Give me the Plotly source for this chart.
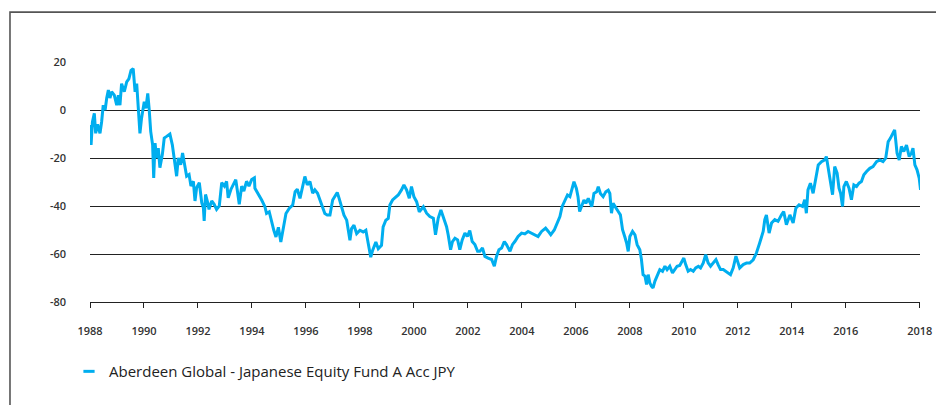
import plotly.graph_objects as go

SERIES_NAME = "Aberdeen Global - Japanese Equity Fund A Acc JPY"
LINE_COLOR = "#00AEEF"

# decimal-year positions
years = [
    1988.00, 1988.04, 1988.09, 1988.16, 1988.21, 1988.28, 1988.37, 1988.43, 1988.49, 1988.56,
    1988.62, 1988.68, 1988.74, 1988.80, 1988.90, 1988.99, 1989.05, 1989.11, 1989.17, 1989.27,
    1989.36, 1989.44, 1989.52, 1989.60, 1989.67, 1989.73, 1989.79, 1989.85, 1989.91, 1990.01,
    1990.07, 1990.14, 1990.19, 1990.25, 1990.32, 1990.36, 1990.41, 1990.47, 1990.53, 1990.59,
    1990.68, 1990.75, 1990.84, 1990.96, 1991.05, 1991.12, 1991.21, 1991.27, 1991.36, 1991.43,
    1991.52, 1991.58, 1991.67, 1991.74, 1991.83, 1991.89, 1991.95, 1992.05, 1992.14, 1992.20,
    1992.23, 1992.28, 1992.36, 1992.41, 1992.51, 1992.60, 1992.69, 1992.79, 1992.88, 1992.98,
    1993.06, 1993.12, 1993.22, 1993.31, 1993.40, 1993.47, 1993.53, 1993.62, 1993.70, 1993.80,
    1993.89, 1993.99, 1994.09,
    1994.11, 1994.23, 1994.36, 1994.48, 1994.54, 1994.64, 1994.73, 1994.81, 1994.89, 1994.98,
    1995.07, 1995.16, 1995.26, 1995.38, 1995.51, 1995.60, 1995.68, 1995.78, 1995.88, 1995.96,
    1996.05, 1996.15, 1996.25, 1996.33, 1996.43, 1996.52, 1996.62, 1996.70, 1996.79, 1996.89,
    1996.99, 1997.07, 1997.16, 1997.23, 1997.32, 1997.41, 1997.51, 1997.57, 1997.63, 1997.69,
    1997.78, 1997.88, 1998.00, 1998.12, 1998.22, 1998.31, 1998.40, 1998.47, 1998.59, 1998.68,
    1998.80, 1998.86, 1998.96, 1999.05, 1999.11, 1999.21, 1999.33, 1999.42, 1999.54, 1999.63,
    1999.73, 1999.83, 1999.91, 2000.00, 2000.10, 2000.20,
    2000.35, 2000.47, 2000.59, 2000.72, 2000.80, 2000.90, 2001.00, 2001.09, 2001.21, 2001.27,
    2001.36, 2001.43, 2001.52, 2001.62, 2001.70, 2001.79, 2001.89, 2001.98, 2002.07, 2002.16,
    2002.26, 2002.36, 2002.44, 2002.54, 2002.63, 2002.75, 2002.88, 2002.98, 2003.06, 2003.15,
    2003.25, 2003.35, 2003.43, 2003.56, 2003.65, 2003.74, 2003.86, 2003.99, 2004.11, 2004.23,
    2004.36, 2004.48, 2004.60, 2004.73, 2004.88, 2004.98, 2005.07, 2005.20, 2005.32, 2005.41,
    2005.49, 2005.59, 2005.69, 2005.78, 2005.85, 2005.93, 2006.02, 2006.08, 2006.14, 2006.23,
    2006.30,
    2006.37, 2006.46, 2006.59, 2006.67, 2006.77, 2006.83, 2006.91, 2007.01, 2007.11, 2007.20,
    2007.26, 2007.32, 2007.38, 2007.48, 2007.57, 2007.65, 2007.73, 2007.81, 2007.88, 2007.94,
    2008.00, 2008.10, 2008.19, 2008.27, 2008.37, 2008.43, 2008.49, 2008.56, 2008.62, 2008.68,
    2008.74, 2008.80, 2008.86, 2008.93, 2009.01, 2009.11, 2009.21, 2009.30, 2009.38, 2009.48,
    2009.58, 2009.67, 2009.75, 2009.85, 2009.91, 2010.00, 2010.07, 2010.16, 2010.25, 2010.35,
    2010.44, 2010.54, 2010.62, 2010.72, 2010.81, 2010.90, 2010.99, 2011.09, 2011.19, 2011.27,
    2011.36, 2011.46, 2011.56, 2011.64, 2011.73, 2011.83, 2011.93,
    2012.07, 2012.20, 2012.32, 2012.44, 2012.57, 2012.69, 2012.81, 2012.94, 2013.00, 2013.06,
    2013.16, 2013.25, 2013.37, 2013.49, 2013.62, 2013.70, 2013.80, 2013.93, 2014.05, 2014.15,
    2014.27, 2014.40, 2014.48, 2014.54, 2014.60, 2014.69, 2014.79, 2014.89, 2014.98, 2015.10,
    2015.22, 2015.28, 2015.36, 2015.43, 2015.51, 2015.59, 2015.68, 2015.75, 2015.81, 2015.88,
    2015.93, 2016.02, 2016.12, 2016.21, 2016.30, 2016.40, 2016.49, 2016.58, 2016.67, 2016.77,
    2016.89, 2017.01, 2017.14, 2017.26, 2017.38, 2017.48, 2017.57, 2017.65, 2017.75, 2017.81,
    2017.90, 2017.98, 2018.06, 2018.15, 2018.25, 2018.35, 2018.43, 2018.49, 2018.56, 2018.64,
    2018.72, 2018.77,
]

# cumulative performance (%)
performance = [
    -6.2, -14.5, -5.0, -1.4, -9.7, -6.0, -9.7, -5.0, 2.0, 0.0,
    5.0, 8.3, 5.0, 7.6, 6.2, 2.0, 6.2, 2.0, 11.0, 7.6,
    11.7, 13.0, 16.5, 17.2, 7.6, 11.0, 0.7, -9.7, -3.4, 3.4,
    0.7, 6.9, 0.7, -9.0, -14.5, -28.3, -13.8, -20.0, -15.9, -24.0,
    -18.6, -11.7, -11.0, -10.0, -14.5, -20.0, -27.6, -20.0, -22.8, -17.9,
    -24.0, -27.6, -26.9, -31.7, -29.7, -37.9, -32.4, -30.3, -38.6, -40.7,
    -46.2, -35.2, -38.6, -41.4, -37.9, -39.3, -41.4, -40.0, -30.3, -31.7,
    -29.7, -36.6, -33.1, -31.0, -29.0, -34.5, -39.3, -31.7, -33.8, -29.7,
    -31.7, -29.0, -28.3,
    -32.6, -34.7, -37.5, -40.3, -43.1, -42.4, -47.3, -50.1, -52.9, -48.9,
    -55.0, -48.7, -43.1, -41.0, -39.6, -34.0, -33.0, -36.8, -31.9, -27.7,
    -31.2, -29.8, -34.7, -33.3, -34.7, -37.5, -41.0, -43.1, -43.8, -43.8,
    -37.5, -36.1, -34.4, -36.8, -40.3, -43.8, -45.9, -50.1, -54.3, -49.4,
    -48.0, -51.5, -50.1, -50.8, -50.1, -55.7, -61.3, -58.5, -55.0, -57.8,
    -56.4, -48.7, -45.9, -45.2, -39.6, -37.5, -36.1, -35.4, -33.3, -31.2,
    -33.3, -36.8, -31.9, -36.1, -38.2, -42.4,
    -40.3, -43.0, -44.4, -45.1, -52.0, -45.1, -41.7, -45.1, -48.6, -52.0,
    -58.2, -54.8, -53.4, -54.1, -58.2, -54.1, -51.3, -52.7, -50.2, -54.8,
    -56.1, -58.9, -58.9, -57.5, -61.0, -61.7, -62.3, -65.1, -61.0, -58.2,
    -57.5, -54.8, -56.1, -58.9, -56.1, -54.8, -52.7, -51.3, -51.6, -50.6,
    -51.3, -52.0, -52.7, -50.6, -49.2, -50.6, -52.0, -50.0, -47.2, -44.4,
    -40.3, -37.5, -35.4, -36.1, -33.4, -29.9, -32.7, -36.1, -42.3, -39.6,
    -37.5,
    -38.9, -36.8, -40.3, -34.8, -34.1, -32.0, -34.8, -36.1, -34.1, -33.4,
    -34.8, -43.0, -38.9, -41.0, -42.3, -43.7, -49.9, -52.7, -55.4, -58.9,
    -52.7, -50.6, -52.0, -56.1, -58.2, -62.3, -68.6, -69.2, -72.7, -68.6,
    -72.0, -73.4, -74.1, -71.3, -69.2, -66.5, -67.2, -65.1, -66.5, -65.1,
    -67.9, -66.5, -65.1, -64.8, -63.7, -61.7, -64.4, -67.2, -66.5, -67.2,
    -65.8, -65.1, -65.8, -63.7, -60.3, -63.7, -65.1, -63.7, -62.3, -64.4,
    -66.5, -66.5, -67.2, -67.9, -68.6, -65.8, -60.9,
    -65.8, -64.4, -63.8, -63.8, -62.4, -59.6, -55.4, -50.6, -45.7, -43.7,
    -51.3, -47.1, -45.7, -46.4, -43.7, -42.3, -47.8, -43.7, -47.1, -40.9,
    -39.5, -40.2, -37.4, -43.0, -33.3, -30.5, -34.7, -27.7, -22.9, -21.5,
    -20.8, -19.4, -25.6, -31.2, -35.3, -23.6, -26.3, -32.6, -34.7, -40.2,
    -31.9, -29.8, -32.6, -37.4, -31.2, -31.9, -30.5, -29.8, -27.0, -25.6,
    -24.3, -23.6, -21.5, -20.8, -21.5, -20.1, -13.2, -11.8, -9.7, -8.3,
    -18.0, -20.8, -15.2, -17.3, -14.6, -19.4, -18.0, -15.9, -22.9, -24.9,
    -28.4, -33.3,
]

x_tick_vals = [1988, 1990, 1992, 1994, 1996, 1998, 2000, 2002, 2004, 2006,
               2008, 2010, 2012, 2014, 2016, 2018.74]
x_tick_text = ["1988", "1990", "1992", "1994", "1996", "1998", "2000", "2002", "2004",
               "2006", "2008", "2010", "2012", "2014", "2016", "2018"]
y_tick_vals = [20, 0, -20, -40, -60, -80]
y_tick_text = ["20", "0", "-20", "-40", "-60", "-80"]

fig = go.Figure()
fig.add_trace(go.Scatter(
    x=years, y=performance, mode="lines",
    line=dict(color=LINE_COLOR, width=3),
    showlegend=False, hoverinfo="skip",
))
# legend entry (short dash symbol)
fig.add_trace(go.Scatter(
    x=[None], y=[None], mode="markers", name=SERIES_NAME,
    marker=dict(symbol="line-ew", size=8, color=LINE_COLOR,
                line=dict(color=LINE_COLOR, width=3)),
    showlegend=True,
))

tick_font = dict(family="Open Sans, sans-serif", size=11, color="#333333", weight=600)

fig.update_layout(
    width=936, height=397, autosize=False,
    margin=dict(l=82, r=24, t=54, b=103, pad=0),
    paper_bgcolor="white", plot_bgcolor="white",
    showlegend=True,
    legend=dict(
        x=-0.0253, xanchor="left", y=-0.29, yanchor="middle",
        font=dict(family="Open Sans, sans-serif", size=15, color="#222222"),
        bgcolor="rgba(0,0,0,0)", borderwidth=0,
    ),
    xaxis=dict(
        range=[1988, 2018.75], showgrid=False, zeroline=False,
        showline=True, linecolor="#222222", linewidth=1.3,
        ticks="outside", ticklen=5, tickwidth=1.3, tickcolor="#222222",
        tickvals=x_tick_vals, ticktext=x_tick_text, tickfont=tick_font,
        ticklabelstandoff=14,
    ),
    yaxis=dict(
        range=[-80, 20], showgrid=True, gridcolor="#222222", gridwidth=1.3,
        zeroline=False, showline=False, ticks="",
        tickvals=y_tick_vals, ticktext=y_tick_text, tickfont=tick_font,
        ticklabelstandoff=23,
    ),
    shapes=[dict(
        type="rect", xref="paper", yref="paper",
        x0=-0.0964, x1=1.2, y0=-0.6, y1=1.208,
        line=dict(color="#555555", width=1.6), fillcolor="rgba(0,0,0,0)",
        layer="below",
    )],
)

fig.write_html("out.html")
